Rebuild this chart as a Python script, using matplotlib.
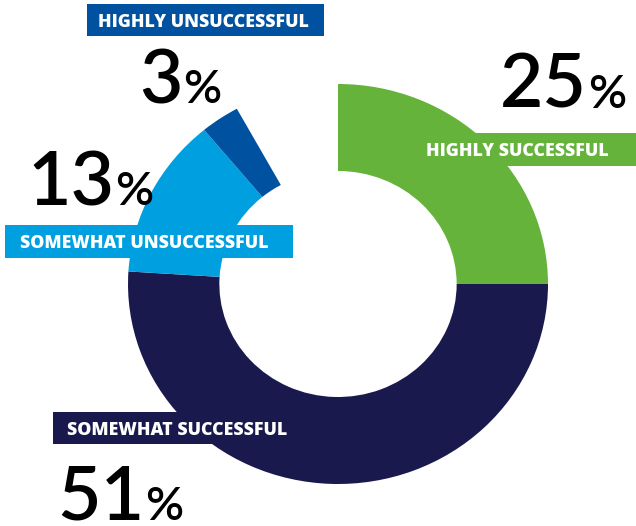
import matplotlib.pyplot as plt
from matplotlib.patches import Rectangle

# survey results, percent of respondents
labels = ["HIGHLY SUCCESSFUL", "SOMEWHAT SUCCESSFUL",
          "SOMEWHAT UNSUCCESSFUL", "HIGHLY UNSUCCESSFUL"]
values = [25, 51, 13, 3]
colors = ["#65b33b", "#1a194d", "#009fe0", "#0051a0"]

W, H = 636, 526
fig = plt.figure(figsize=(W / 100, H / 100), dpi=100)
ax = fig.add_axes([0, 0, 1, 1])

# ring: clockwise from 12 o'clock, left unfilled where the shares stop short of 100
ax.pie([v / 100 for v in values], colors=colors, startangle=90,
       counterclock=False, normalize=False,
       wedgeprops=dict(width=0.435, linewidth=0))
ax.set_aspect("auto")
# ring centre sits at (338, 284) px, 210 px wide and 200 px tall in radius
ax.set_xlim(-338 / 210, (W - 338) / 210)
ax.set_ylim((284 - H) / 200, 284 / 200)
ax.axis("off")


def fx(px):
    return px / W


def fy(py):
    return 1 - py / H


# coloured label bars: (x0, y0, x1, y1) in pixels, same order as labels
bars = [(420, 133, W, 166), (53, 412, 300, 444), (5, 225, 293, 258), (87, 4, 324, 36)]
label_pos = [(426, 156), (67, 435), (20, 248), (98, 27)]
num_pos = [(500, 108), (57, 520), (27, 205), (139, 103)]

for (x0, y0, x1, y1), c in zip(bars, colors):
    fig.patches.append(Rectangle((fx(x0), fy(y1)), fx(x1) - fx(x0), fy(y0) - fy(y1),
                                 transform=fig.transFigure, facecolor=c,
                                 edgecolor="none", zorder=3))

for lab, (x, y) in zip(labels, label_pos):
    fig.text(fx(x), fy(y), lab, color="white", fontsize=12.8, fontweight="heavy",
             family="Open Sans", ha="left", va="baseline", zorder=4)

renderer = fig.canvas.get_renderer()
for v, (x, y) in zip(values, num_pos):
    t = fig.text(fx(x), fy(y), str(v), color="black", fontsize=54, family="Lato",
                 fontweight="semibold", ha="left", va="baseline", zorder=4)
    bb = t.get_window_extent(renderer)
    fig.text(bb.x1 / W + fx(1), fy(y), "%", color="black", fontsize=34,
             family="Lato", fontweight="semibold", ha="left", va="baseline", zorder=4)

fig.savefig("out.png", dpi=100, facecolor="white")
